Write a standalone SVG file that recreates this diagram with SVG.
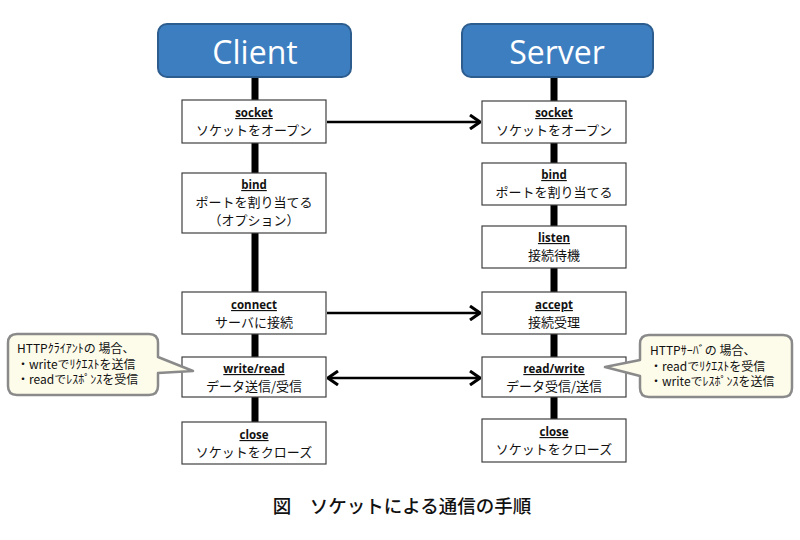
<svg xmlns="http://www.w3.org/2000/svg" width="800" height="540" viewBox="0 0 800 540">
<defs>
<style>
.hdr{fill:#3d7ec1;stroke:#2c5d8e;stroke-width:2}
.hdrt{font-family:"Open Sans","Liberation Sans",sans-serif;font-size:32px;fill:#ffffff;text-anchor:middle}
.box{fill:#ffffff;stroke:#404040;stroke-width:1.2}
.lab{font-family:"Open Sans","Liberation Sans",sans-serif;font-size:11.5px;font-weight:bold;fill:#111;text-anchor:middle;text-decoration:underline}
.jp{font-family:"Noto Sans CJK JP","Noto Sans",sans-serif;font-size:13px;fill:#111;text-anchor:middle}
.life{stroke:#000;stroke-width:7}
.conn{stroke:#000;stroke-width:2.5;fill:none}
.call{fill:#fdfbea;stroke:#8a8a8a;stroke-width:2.5;stroke-linejoin:round}
.ct{font-family:"Noto Sans CJK JP","Noto Sans",sans-serif;font-size:12px;fill:#111}
.cap{font-family:"Noto Sans CJK JP","Noto Sans",sans-serif;font-size:18.5px;font-weight:500;fill:#111;text-anchor:middle}
</style>
<marker id="ah" viewBox="0 0 12 16" refX="11" refY="8" markerWidth="12" markerHeight="16" markerUnits="userSpaceOnUse" orient="auto-start-reverse">
<path d="M1,1 L11,8 L1,15" fill="none" stroke="#000" stroke-width="3"/>
</marker>
</defs>
<rect width="800" height="540" fill="#ffffff"/>
<g id="lifelines">
<line class="life" x1="255" y1="77" x2="255" y2="423"/>
<line class="life" x1="554" y1="77" x2="554" y2="420"/>
</g>
<g id="connectors">
<line class="conn" x1="327" y1="122" x2="480" y2="122" marker-end="url(#ah)"/>
<line class="conn" x1="327" y1="313" x2="480" y2="313" marker-end="url(#ah)"/>
<line class="conn" x1="328" y1="378" x2="480" y2="378" marker-start="url(#ah)" marker-end="url(#ah)"/>
</g>
<g id="client-header">
<rect class="hdr" x="158" y="24" width="193" height="53" rx="9"/>
<text class="hdrt" x="255" y="64">Client</text>
</g>
<g id="server-header">
<rect class="hdr" x="462" y="24" width="191" height="53" rx="9"/>
<text class="hdrt" x="557" y="64">Server</text>
</g>
<g id="c-socket">
<rect class="box" x="182" y="100" width="144" height="43"/>
<text class="lab" x="254" y="117">socket</text>
<text class="jp" x="254" y="135">ソケットをオープン</text>
</g>
<g id="c-bind">
<rect class="box" x="182" y="173" width="144" height="60"/>
<text class="lab" x="254" y="189">bind</text>
<text class="jp" x="254" y="207">ポートを割り当てる</text>
<text class="jp" x="254" y="225">（オプション）</text>
</g>
<g id="c-connect">
<rect class="box" x="182" y="292" width="144" height="42"/>
<text class="lab" x="254" y="309">connect</text>
<text class="jp" x="254" y="327">サーバに接続</text>
</g>
<g id="c-writeread">
<rect class="box" x="182" y="357" width="144" height="40"/>
<text class="lab" x="254" y="373">write/read</text>
<text class="jp" x="254" y="391">データ送信/受信</text>
</g>
<g id="c-close">
<rect class="box" x="182" y="422" width="144" height="42"/>
<text class="lab" x="254" y="439">close</text>
<text class="jp" x="254" y="457">ソケットをクローズ</text>
</g>
<g id="s-socket">
<rect class="box" x="482" y="101" width="144" height="42"/>
<text class="lab" x="554" y="117">socket</text>
<text class="jp" x="554" y="135">ソケットをオープン</text>
</g>
<g id="s-bind">
<rect class="box" x="482" y="163" width="144" height="42"/>
<text class="lab" x="554" y="179">bind</text>
<text class="jp" x="554" y="197">ポートを割り当てる</text>
</g>
<g id="s-listen">
<rect class="box" x="482" y="226" width="144" height="42"/>
<text class="lab" x="554" y="242">listen</text>
<text class="jp" x="554" y="260">接続待機</text>
</g>
<g id="s-accept">
<rect class="box" x="482" y="292" width="144" height="42"/>
<text class="lab" x="554" y="309">accept</text>
<text class="jp" x="554" y="327">接続受理</text>
</g>
<g id="s-readwrite">
<rect class="box" x="482" y="357" width="144" height="40"/>
<text class="lab" x="554" y="373">read/write</text>
<text class="jp" x="554" y="391">データ受信/送信</text>
</g>
<g id="s-close">
<rect class="box" x="482" y="419" width="144" height="43"/>
<text class="lab" x="554" y="436">close</text>
<text class="jp" x="554" y="454">ソケットをクローズ</text>
</g>
<g id="client-callout">
<path class="call" d="M17,334 H149 Q158,334 158,343 V357 L193,371 L158,373 V386 Q158,395 149,395 H17 Q8,395 8,386 V343 Q8,334 17,334 Z"/>
<text class="ct" x="17" y="353">HTTPｸﾗｲｱﾝﾄの 場合、</text>
<text class="ct" x="17" y="368.5">・writeでﾘｸｴｽﾄを送信</text>
<text class="ct" x="17" y="384">・readでﾚｽﾎﾟﾝｽを受信</text>
</g>
<g id="server-callout">
<path class="call" d="M649,335 H783 Q792,335 792,344 V388 Q792,397 783,397 H649 Q640,397 640,388 V376 L605,367 L640,360 V344 Q640,335 649,335 Z"/>
<text class="ct" x="650" y="355">HTTPｻｰﾊﾞの 場合、</text>
<text class="ct" x="650" y="370.5">・readでﾘｸｴｽﾄを受信</text>
<text class="ct" x="650" y="386">・writeでﾚｽﾎﾟﾝｽを送信</text>
</g>
<g id="caption">
<text class="cap" x="402" y="513">図　ソケットによる通信の手順</text>
</g>
</svg>
